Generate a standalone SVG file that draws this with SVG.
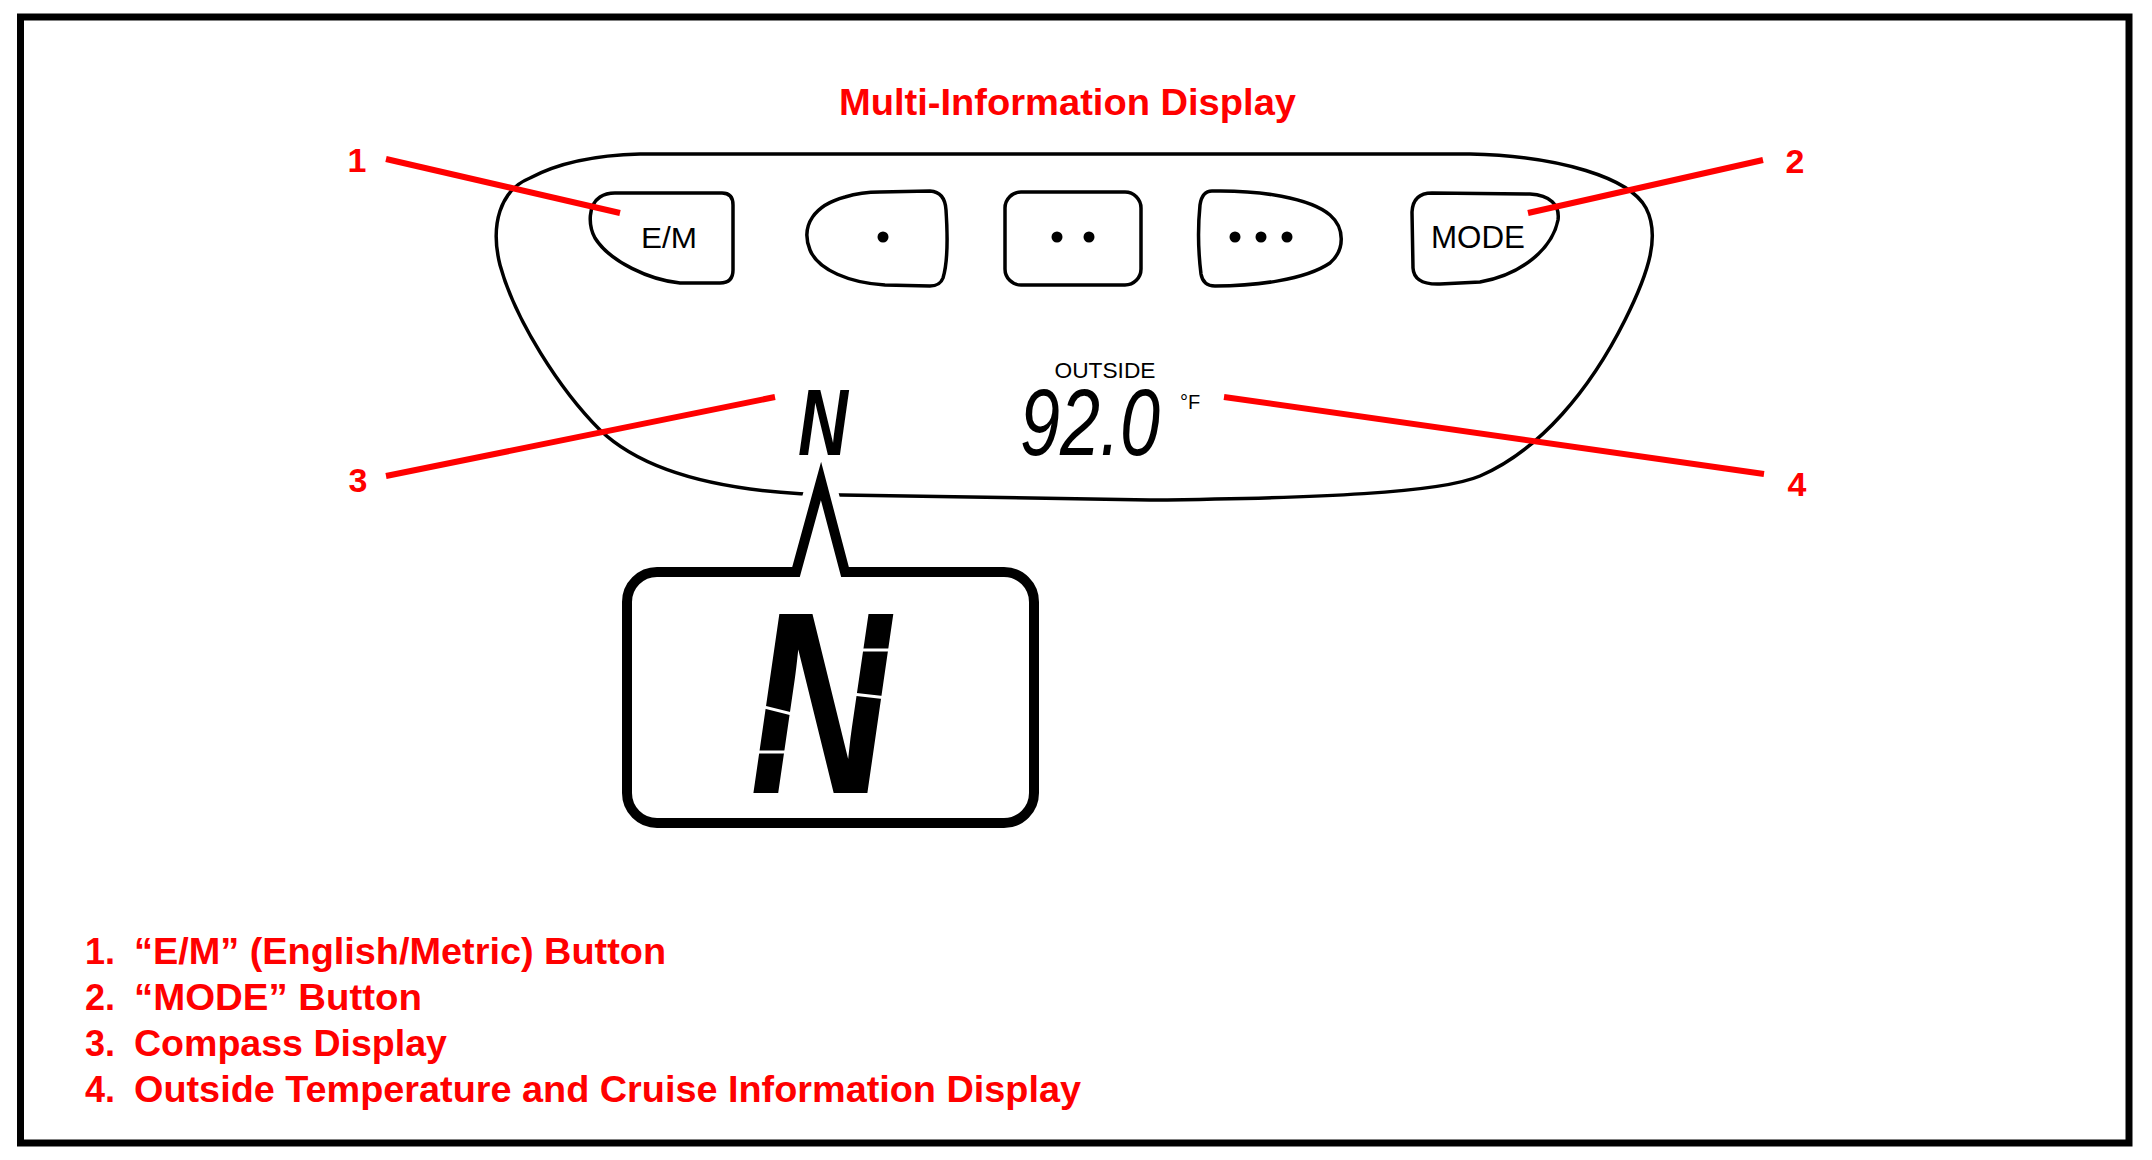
<svg xmlns="http://www.w3.org/2000/svg" width="2152" height="1160" viewBox="0 0 2152 1160">
<style>
.ol{fill:#fff;stroke:#000;stroke-width:3.5;stroke-linejoin:round}
.red{fill:#ff0000;font-family:"Liberation Sans",Arial,sans-serif;font-weight:bold}
.lead{stroke:#ff0000;stroke-width:6;stroke-linecap:butt;fill:none}
.blk{fill:#000;font-family:"Liberation Sans",Arial,sans-serif}
.dot{fill:#000}
.gap{stroke:#fff;stroke-width:3;fill:none}
</style>
<rect width="2152" height="1160" fill="#fff"/>
<g id="frame"><rect x="20.5" y="17" width="2108.5" height="1126" fill="none" stroke="#000" stroke-width="7"/></g>
<g id="title"><text class="red" x="839" y="115" font-size="37" textLength="457" lengthAdjust="spacingAndGlyphs">Multi-Information Display</text></g>
<g id="display">
<path class="ol" d="M 640,154 L 1470,154 C 1560,156 1630,178 1646,208 C 1660,235 1650,270 1625,320 C 1590,390 1540,450 1480,476 C 1440,493 1320,498 1150,500 L 842,495 C 740,494 650,478 600,430 C 560,390 515,320 500,265 C 490,225 500,190 530,178 C 560,162 600,155 640,154 Z"/>
</g>
<g id="btn-em">
<path class="ol" d="M 615,193 L 722,193 Q 733,193 733,205 L 733,270 Q 733,283 720,283 L 680,283 C 650,280 610,262 595,238 C 588,225 588,205 600,197 Q 606,193 615,193 Z"/>
<text class="blk" x="669" y="248" font-size="30" text-anchor="middle" textLength="56" lengthAdjust="spacingAndGlyphs">E/M</text>
</g>
<g id="btn-1">
<path class="ol" d="M 880,192 L 930,191 Q 945,192 946,210 C 948,240 947,265 943,278 Q 940,286 930,286 L 885,285 C 850,283 818,270 810,250 C 800,225 815,205 845,197 C 858,193 870,192 880,192 Z"/>
<circle class="dot" cx="883" cy="237" r="5.5"/>
</g>
<g id="btn-2">
<rect class="ol" x="1005" y="192" width="136" height="93" rx="16"/>
<circle class="dot" cx="1057" cy="237" r="5.5"/>
<circle class="dot" cx="1089" cy="237" r="5.5"/>
</g>
<g id="btn-3">
<path class="ol" d="M 1212,191 C 1260,190 1310,198 1330,215 C 1345,228 1345,250 1330,263 C 1305,280 1255,286 1215,286 Q 1203,286 1201,274 C 1198,250 1198,225 1200,205 Q 1202,191 1212,191 Z"/>
<circle class="dot" cx="1235" cy="237" r="5.5"/>
<circle class="dot" cx="1261" cy="237" r="5.5"/>
<circle class="dot" cx="1287" cy="237" r="5.5"/>
</g>
<g id="btn-mode">
<path class="ol" d="M 1432,193 L 1530,194 C 1550,195 1560,205 1558,220 C 1552,250 1520,275 1480,282 L 1440,284 Q 1414,285 1413,268 L 1412,212 Q 1413,193 1432,193 Z"/>
<text class="blk" x="1478" y="248" font-size="31" text-anchor="middle" textLength="94" lengthAdjust="spacingAndGlyphs">MODE</text>
</g>
<g id="temp">
<text class="blk" x="1105" y="378" font-size="22" text-anchor="middle" textLength="101" lengthAdjust="spacingAndGlyphs">OUTSIDE</text>
<text class="blk" x="1020" y="455" font-size="94" font-style="italic" textLength="140" lengthAdjust="spacingAndGlyphs">92.0</text>
<text class="blk" x="1180" y="409" font-size="20">°F</text>
</g>
<g id="compass">
<text class="blk" x="798" y="455" font-size="94" font-style="italic" font-weight="bold" textLength="50" lengthAdjust="spacingAndGlyphs">N</text>
</g>
<g id="callout">
<path d="M 796,572 L 821,481 L 845,572" fill="none" stroke="#fff" stroke-width="28" stroke-linejoin="round"/>
<path d="M 796,572 L 821,481 L 845,572 L 1004,572 A 30 30 0 0 1 1034,602 L 1034,793 A 30 30 0 0 1 1004,823 L 657,823 A 30 30 0 0 1 627,793 L 627,602 A 30 30 0 0 1 657,572 Z" fill="#fff" stroke="#000" stroke-width="10" stroke-linejoin="miter" stroke-miterlimit="10"/>
<text class="blk" x="750" y="793" font-size="260" font-style="italic" font-weight="bold" textLength="140" lengthAdjust="spacingAndGlyphs">N</text>
<path class="gap" d="M 748,703 L 800,716 M 745,752 L 795,752 M 860,650 L 915,650 M 852,694 L 905,700"/>
</g>
<g id="connectors">
<line class="lead" x1="386" y1="159" x2="620" y2="213"/>
<line class="lead" x1="1763" y1="160" x2="1528" y2="213"/>
<line class="lead" x1="386" y1="476" x2="775" y2="397"/>
<line class="lead" x1="1224" y1="397" x2="1764" y2="474"/>
</g>
<g id="labels">
<text class="red" x="357" y="172" font-size="34" text-anchor="middle">1</text>
<text class="red" x="1795" y="173" font-size="34" text-anchor="middle">2</text>
<text class="red" x="358" y="492" font-size="34" text-anchor="middle">3</text>
<text class="red" x="1797" y="496" font-size="34" text-anchor="middle">4</text>
</g>
<g id="legend">
<text class="red" x="85" y="964" font-size="36">1.</text>
<text class="red" x="134" y="964" font-size="36" textLength="532" lengthAdjust="spacingAndGlyphs">“E/M” (English/Metric) Button</text>
<text class="red" x="85" y="1010" font-size="36">2.</text>
<text class="red" x="134" y="1010" font-size="36" textLength="288" lengthAdjust="spacingAndGlyphs">“MODE” Button</text>
<text class="red" x="85" y="1056" font-size="36">3.</text>
<text class="red" x="134" y="1056" font-size="36" textLength="313" lengthAdjust="spacingAndGlyphs">Compass Display</text>
<text class="red" x="85" y="1102" font-size="36">4.</text>
<text class="red" x="134" y="1102" font-size="36" textLength="947" lengthAdjust="spacingAndGlyphs">Outside Temperature and Cruise Information Display</text>
</g>
</svg>
